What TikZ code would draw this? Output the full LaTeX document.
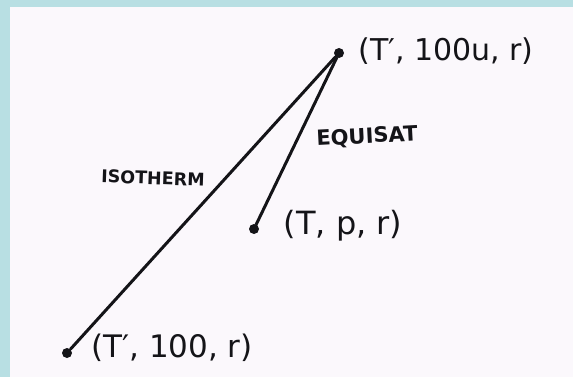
\documentclass[tikz,border=0pt]{standalone}
\usepackage{fontspec}
\setmainfont{DejaVu Sans}
\definecolor{frameblue}{HTML}{B8DFE3}
\definecolor{paper}{HTML}{FBF8FC}
\definecolor{ink}{HTML}{141418}
\begin{document}
\begin{tikzpicture}[x=1pt,y=-1pt,
  dot/.style={circle,fill=ink,inner sep=0pt,minimum size=10pt},
  pathline/.style={draw=ink,line width=3pt,line cap=round},
  coordlbl/.style={text=ink,inner sep=0pt,font=\fontsize{30}{32}\selectfont},
  curvelbl/.style={text=ink,inner sep=0pt,font=\bfseries\fontsize{19}{20}\selectfont}]
\useasboundingbox (0,0) rectangle (573,377);
\fill[frameblue] (0,0) rectangle (573,377);
\fill[paper] (10,7) rectangle (573,377);
\node[dot] (top) at (339,53) {};
\node[dot] (mid) at (254,229) {};
\node[dot] (bot) at (67,353) {};
\draw[pathline] (bot) -- (top);
\draw[pathline] (mid) -- (top);
\node[coordlbl] (ltop) at (446,51) {(T′, 100u, r)};
\node[coordlbl,font=\fontsize{32}{34}\selectfont] (lmid) at (343,226) {(T, p, r)};
\node[coordlbl,font=\fontsize{31}{33}\selectfont] (lbot) at (172,348) {(T′, 100, r)};
\node[curvelbl,font=\bfseries\fontsize{21}{22}\selectfont,rotate=3] (lequi) at (367,137) {EQUISAT};
\node[curvelbl,font=\bfseries\fontsize{17.5}{19}\selectfont,rotate=-2] (liso) at (153,178) {ISOTHERM};
\end{tikzpicture}
\end{document}
